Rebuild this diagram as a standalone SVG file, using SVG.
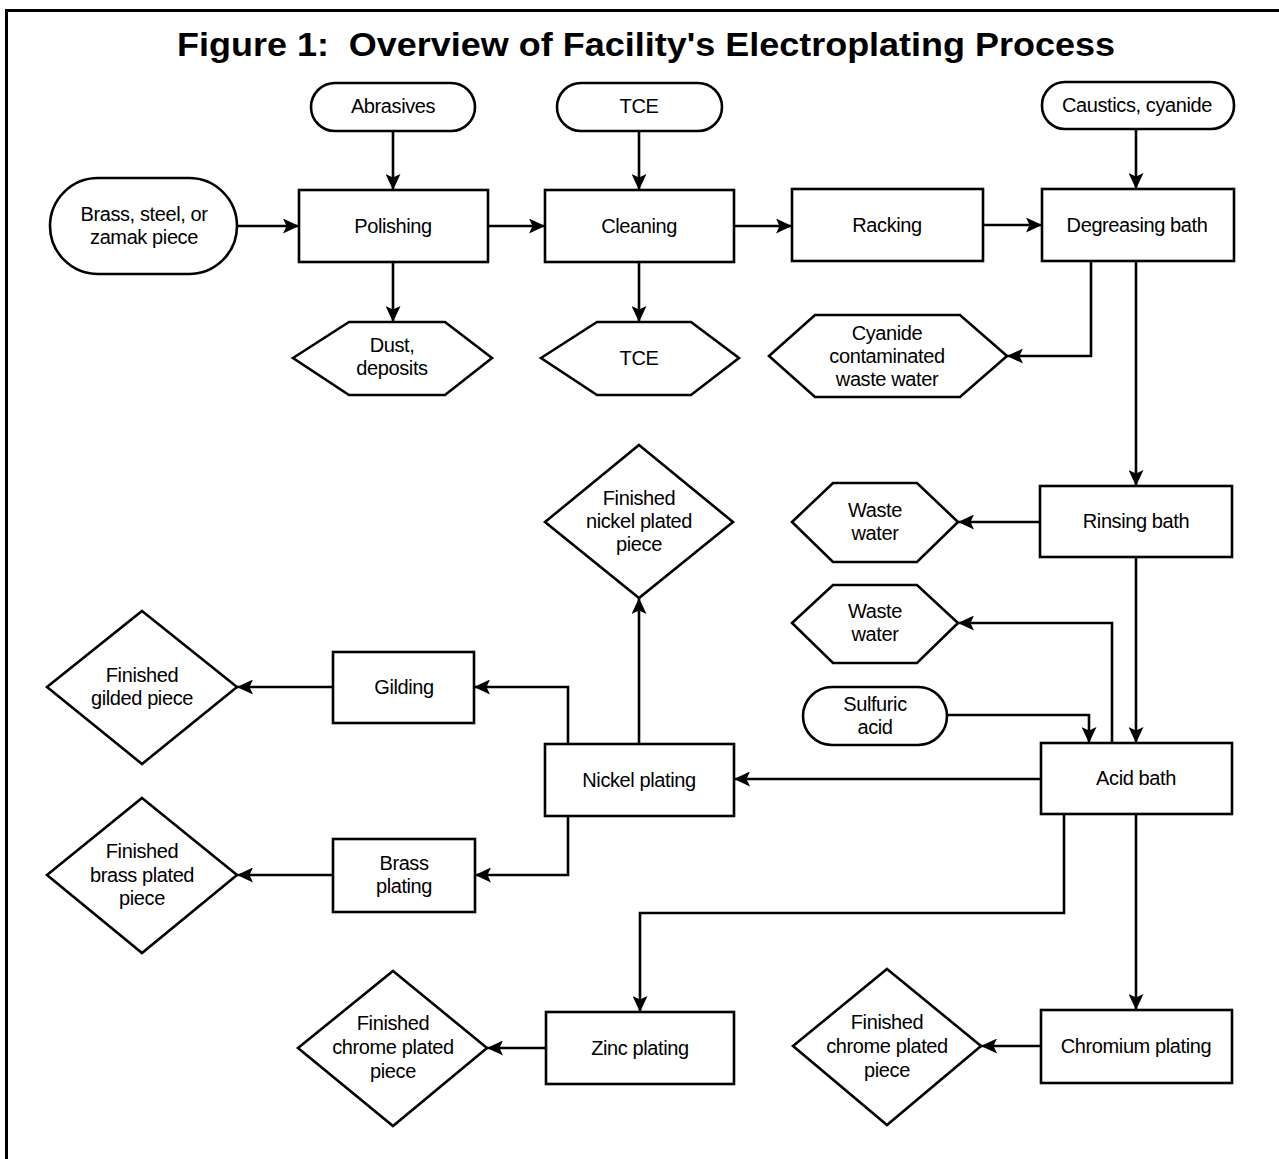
<svg xmlns="http://www.w3.org/2000/svg" width="1279" height="1159" viewBox="0 0 1279 1159">
<style>
.s{fill:#fff;stroke:#000;stroke-width:2.6}
.t{font-family:"Liberation Sans",Arial,sans-serif;font-size:20px;fill:#000;text-anchor:middle;letter-spacing:-0.4px}
.c{fill:none;stroke:#000;stroke-width:2.6;marker-end:url(#ah)}
</style>
<defs>
<marker id="ah" markerUnits="userSpaceOnUse" markerWidth="17" markerHeight="15" refX="16" refY="7.5" orient="auto">
<path d="M0,0 L16,7.5 L0,15 L3.5,7.5 z" fill="#000"/>
</marker>
</defs>
<rect width="1279" height="1159" fill="#fff"/>
<path d="M5,10.5 H1279 M6.5,9 V1159" stroke="#000" stroke-width="3" fill="none"/>
<text x="646" y="56" xml:space="preserve" font-family="Liberation Sans,Arial,sans-serif" font-weight="bold" font-size="34" text-anchor="middle" textLength="938" lengthAdjust="spacingAndGlyphs">Figure 1:  Overview of Facility's Electroplating Process</text>

<g id="connectors">
<path class="c" d="M237,226 H299"/>
<path class="c" d="M393,131 V190"/>
<path class="c" d="M393,262 V322"/>
<path class="c" d="M488,226 H545"/>
<path class="c" d="M639,131 V190"/>
<path class="c" d="M639,262 V322"/>
<path class="c" d="M734,226 H792"/>
<path class="c" d="M983,225 H1042"/>
<path class="c" d="M1136,129 V189"/>
<path class="c" d="M1091,261 V356 H1007"/>
<path class="c" d="M1136,261 V486"/>
<path class="c" d="M1040,522 H958"/>
<path class="c" d="M1136,557 V743"/>
<path class="c" d="M1112,743 V623 H958"/>
<path class="c" d="M947,715 H1089 V743"/>
<path class="c" d="M1041,779 H734"/>
<path class="c" d="M639,744 V598"/>
<path class="c" d="M568,744 V687 H474"/>
<path class="c" d="M333,687 H237"/>
<path class="c" d="M568,816 V875 H475"/>
<path class="c" d="M333,875 H237"/>
<path class="c" d="M1064,814 V913 H640 V1012"/>
<path class="c" d="M546,1048 H487"/>
<path class="c" d="M1136,814 V1010"/>
<path class="c" d="M1041,1046 H981"/>
</g>

<g id="brass_steel_zamak">
<rect class="s" x="50" y="178" width="187" height="96" rx="48"/>
<text class="t" x="144" y="221">Brass, steel, or</text>
<text class="t" x="144" y="244">zamak piece</text>
</g>
<g id="abrasives">
<rect class="s" x="311" y="83" width="164" height="48" rx="24"/>
<text class="t" x="393" y="113">Abrasives</text>
</g>
<g id="polishing">
<rect class="s" x="299" y="190" width="189" height="72"/>
<text class="t" x="393" y="233">Polishing</text>
</g>
<g id="dust_deposits">
<polygon class="s" points="293,358 349,322 445,322 492,358 445,395 349,395"/>
<text class="t" x="392" y="352">Dust,</text>
<text class="t" x="392" y="375">deposits</text>
</g>
<g id="tce_in">
<rect class="s" x="557" y="83" width="165" height="48" rx="24"/>
<text class="t" x="639" y="113">TCE</text>
</g>
<g id="cleaning">
<rect class="s" x="545" y="190" width="189" height="72"/>
<text class="t" x="639" y="233">Cleaning</text>
</g>
<g id="tce_out">
<polygon class="s" points="541,358 597,322 691,322 739,358 691,395 597,395"/>
<text class="t" x="639" y="365">TCE</text>
</g>
<g id="racking">
<rect class="s" x="792" y="189" width="191" height="72"/>
<text class="t" x="887" y="232">Racking</text>
</g>
<g id="degreasing_bath">
<rect class="s" x="1042" y="189" width="192" height="72"/>
<text class="t" x="1137" y="232">Degreasing bath</text>
</g>
<g id="caustics_cyanide">
<rect class="s" x="1042" y="82" width="192" height="47" rx="23"/>
<text class="t" x="1137" y="112">Caustics, cyanide</text>
</g>
<g id="cyanide_waste">
<polygon class="s" points="769,356 815,315 960,315 1007,356 960,397 815,397"/>
<text class="t" x="887" y="340">Cyanide</text>
<text class="t" x="887" y="363">contaminated</text>
<text class="t" x="887" y="386">waste water</text>
</g>
<g id="rinsing_bath">
<rect class="s" x="1040" y="486" width="192" height="71"/>
<text class="t" x="1136" y="528">Rinsing bath</text>
</g>
<g id="waste_water_1">
<polygon class="s" points="792,522 833,483 917,483 958,522 917,562 833,562"/>
<text class="t" x="875" y="517">Waste</text>
<text class="t" x="875" y="540">water</text>
</g>
<g id="waste_water_2">
<polygon class="s" points="792,623 833,585 917,585 958,623 917,663 833,663"/>
<text class="t" x="875" y="618">Waste</text>
<text class="t" x="875" y="641">water</text>
</g>
<g id="sulfuric_acid">
<rect class="s" x="803" y="687" width="144" height="58" rx="29"/>
<text class="t" x="875" y="711">Sulfuric</text>
<text class="t" x="875" y="734">acid</text>
</g>
<g id="acid_bath">
<rect class="s" x="1041" y="743" width="191" height="71"/>
<text class="t" x="1136" y="785">Acid bath</text>
</g>
<g id="nickel_plating">
<rect class="s" x="545" y="744" width="189" height="72"/>
<text class="t" x="639" y="787">Nickel plating</text>
</g>
<g id="finished_nickel">
<polygon class="s" points="639,445 733,522 639,598 545,522"/>
<text class="t" x="639" y="505">Finished</text>
<text class="t" x="639" y="528">nickel plated</text>
<text class="t" x="639" y="551">piece</text>
</g>
<g id="gilding">
<rect class="s" x="333" y="652" width="141" height="71"/>
<text class="t" x="404" y="694">Gilding</text>
</g>
<g id="finished_gilded">
<polygon class="s" points="142,611 237,687 142,764 47,687"/>
<text class="t" x="142" y="682">Finished</text>
<text class="t" x="142" y="705">gilded piece</text>
</g>
<g id="brass_plating">
<rect class="s" x="333" y="839" width="142" height="73"/>
<text class="t" x="404" y="870">Brass</text>
<text class="t" x="404" y="893">plating</text>
</g>
<g id="finished_brass">
<polygon class="s" points="142,798 237,875 142,953 47,875"/>
<text class="t" x="142" y="858">Finished</text>
<text class="t" x="142" y="882">brass plated</text>
<text class="t" x="142" y="905">piece</text>
</g>
<g id="zinc_plating">
<rect class="s" x="546" y="1012" width="188" height="72"/>
<text class="t" x="640" y="1055">Zinc plating</text>
</g>
<g id="finished_chrome_zinc">
<polygon class="s" points="393,971 487,1048 393,1126 298,1048"/>
<text class="t" x="393" y="1030">Finished</text>
<text class="t" x="393" y="1054">chrome plated</text>
<text class="t" x="393" y="1078">piece</text>
</g>
<g id="chromium_plating">
<rect class="s" x="1041" y="1010" width="191" height="73"/>
<text class="t" x="1136" y="1053">Chromium plating</text>
</g>
<g id="finished_chrome_chromium">
<polygon class="s" points="887,969 981,1046 887,1125 793,1046"/>
<text class="t" x="887" y="1029">Finished</text>
<text class="t" x="887" y="1053">chrome plated</text>
<text class="t" x="887" y="1077">piece</text>
</g>
</svg>
